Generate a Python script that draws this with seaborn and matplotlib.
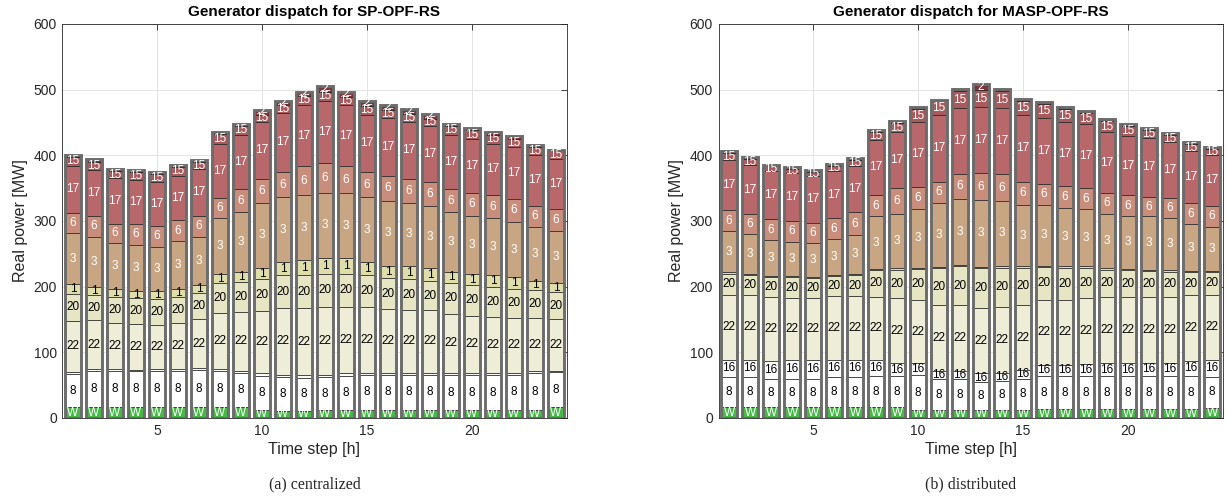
import numpy as np
import pandas as pd
import matplotlib
matplotlib.use("Agg")
import matplotlib.pyplot as plt
import seaborn as sns

# ---------------- data ----------------
hours = list(range(1, 25))
gen_names = ["W", "8", "16", "22", "20", "1", "3", "6", "17", "15", "2"]

# (a) centralized  (SP-OPF-RS) – MW per generator, per hour
c_W  = [16, 16, 16, 16, 16, 16, 16, 16, 16, 12, 11, 11, 12, 12, 12, 12, 12, 12, 12, 12, 12, 12, 12, 16]
c_8  = [51, 55, 55, 55, 55, 56, 57, 55, 52, 52, 51, 50, 50, 52, 54, 54, 54, 54, 53, 53, 53, 54, 56, 54]
c_16 = [3, 3, 3, 2, 3, 3, 3, 4, 4, 4, 4, 4, 4, 4, 3, 3, 3, 3, 3, 3, 3, 3, 3, 2]
c_22 = [78, 75, 71, 70, 68, 70, 74, 85, 89, 95, 101, 102, 103, 101, 100, 97, 96, 95, 91, 88, 86, 84, 81, 78]
c_20 = [41, 38, 39, 39, 39, 40, 41, 45, 46, 48, 50, 51, 51, 51, 49, 47, 46, 45, 46, 46, 46, 44, 43, 42]
c_1  = [15, 13, 12, 12, 12, 12, 12, 14, 16, 18, 20, 22, 24, 24, 19, 19, 20, 19, 18, 17, 17, 17, 14, 13]
c_3  = [77, 76, 71, 69, 68, 72, 73, 86, 90, 98, 99, 100, 99, 98, 99, 99, 97, 95, 91, 89, 88, 85, 82, 80]
c_6  = [31, 32, 29, 33, 31, 32, 32, 30, 36, 37, 39, 43, 46, 42, 39, 38, 36, 36, 34, 35, 34, 34, 32, 33]
c_17 = [72, 69, 69, 66, 67, 68, 71, 82, 82, 87, 90, 94, 94, 92, 87, 88, 87, 85, 83, 82, 79, 80, 78, 76]
c_15 = [14, 13, 11, 12, 12, 13, 11, 15, 14, 11, 12, 13, 14, 13, 13, 12, 12, 12, 14, 13, 13, 12, 11, 12]
c_2  = [3, 4, 3, 3, 3, 3, 3, 3, 3, 7, 6, 7, 8, 8, 8, 8, 7, 7, 3, 4, 4, 4, 3, 2]

# (b) distributed  (MASP-OPF-RS)
d_W  = [16, 16, 16, 16, 16, 16, 16, 16, 16, 12, 12, 12, 12, 12, 12, 13, 13, 13, 13, 13, 13, 13, 13, 15]
d_8  = [47, 47, 44, 44, 44, 47, 47, 48, 48, 53, 47, 47, 43, 45, 48, 51, 51, 51, 51, 51, 51, 51, 51, 48]
d_16 = [26, 26, 27, 28, 28, 26, 26, 24, 19, 18, 12, 12, 13, 12, 13, 17, 17, 18, 19, 19, 20, 20, 23, 25]
d_22 = [99, 99, 97, 95, 94, 97, 97, 97, 99, 97, 101, 101, 100, 100, 99, 99, 99, 100, 101, 101, 100, 101, 100, 100]
d_20 = [32, 29, 30, 31, 31, 30, 31, 40, 44, 47, 56, 59, 60, 60, 57, 50, 49, 47, 42, 41, 40, 38, 35, 34]
d_1  = [2, 2, 2, 2, 2, 2, 2, 2, 2, 2, 2, 2, 2, 2, 2, 2, 2, 2, 2, 2, 2, 2, 2, 2]
d_3  = [62, 61, 55, 52, 51, 54, 60, 80, 83, 90, 97, 101, 102, 100, 93, 92, 89, 87, 83, 81, 81, 79, 71, 67]
d_6  = [33, 30, 32, 32, 31, 32, 34, 33, 39, 33, 33, 38, 41, 40, 36, 33, 33, 32, 32, 31, 30, 31, 32, 32]
d_17 = [76, 75, 73, 73, 72, 72, 70, 84, 85, 99, 101, 100, 100, 101, 101, 100, 98, 97, 92, 91, 89, 85, 79, 78]
d_15 = [10, 10, 7, 6, 6, 8, 10, 12, 14, 19, 21, 26, 26, 26, 22, 21, 19, 17, 17, 15, 12, 11, 11, 8]
d_2  = [3, 3, 3, 3, 3, 3, 3, 3, 3, 3, 3, 3, 9, 3, 3, 3, 3, 3, 3, 3, 3, 3, 3, 3]

titles = ["Generator dispatch for SP-OPF-RS", "Generator dispatch for MASP-OPF-RS"]
captions = ["(a) centralized", "(b) distributed"]
x_label = "Time step [h]"
y_label = "Real power [MW]"
x_ticks = [5, 10, 15, 20]
y_ticks = [0, 100, 200, 300, 400, 500, 600]

# ---------------- style ----------------
sns.set_style("white")
plt.rcParams["font.family"] = ["Liberation Sans", "DejaVu Sans"]

colors = {
    "W": "#46b946", "8": "#ffffff", "16": "#ffffff", "22": "#eeeed8",
    "20": "#e6e5c4", "1": "#dfdea8", "3": "#c9a683", "6": "#c98e7b",
    "17": "#b8686a", "15": "#a95a5c", "2": "#7a3638",
}
text_colors = {"W": "white", "8": "black", "16": "black", "22": "black",
               "20": "black", "1": "black", "3": "white", "6": "white",
               "17": "white", "15": "white", "2": "white"}

panels = [
    [c_W, c_8, c_16, c_22, c_20, c_1, c_3, c_6, c_17, c_15, c_2],
    [d_W, d_8, d_16, d_22, d_20, d_1, d_3, d_6, d_17, d_15, d_2],
]

fig = plt.figure(figsize=(12.27, 5.01), dpi=100)
ax_pos = [[0.0509, 0.1657, 0.4108, 0.7864], [0.5856, 0.1657, 0.4108, 0.7864]]
BAR_W = 0.74

for p, series in enumerate(panels):
    ax = fig.add_axes(ax_pos[p])
    vals = np.array(series, dtype=float)          # gens x hours
    cum = np.cumsum(vals, axis=0)
    # draw from top layer downwards so lower layers overlay
    for g in range(len(gen_names) - 1, -1, -1):
        sns.barplot(x=hours, y=cum[g], native_scale=True, color=colors[gen_names[g]],
                    saturation=1, width=BAR_W, edgecolor="#2a2a2a", linewidth=0.6,
                    errorbar=None, ax=ax, zorder=2)
    # thick grey outline around each stack
    sns.barplot(x=hours, y=cum[-1], native_scale=True, color="#6c6c6c", fill=False,
                saturation=1, width=BAR_W, linewidth=2.1, errorbar=None, ax=ax, zorder=3)
    # segment labels
    for g, name in enumerate(gen_names):
        for i, h in enumerate(hours):
            v = vals[g, i]
            if v >= 5.5:
                base = cum[g, i] - v
                ax.text(h, base + v / 2, name, ha="center", va="center",
                        fontsize=8.5, color=text_colors[name], zorder=4)
    ax.set_xlim(0.5, 24.5)
    ax.set_ylim(0, 600)
    ax.set_xticks(x_ticks)
    ax.set_xticklabels([str(t) for t in x_ticks])
    ax.set_yticks(y_ticks)
    ax.set_axisbelow(True)
    ax.grid(True, color="#e3e3e3", linewidth=0.7)
    ax.tick_params(direction="in", top=True, right=True, length=4, width=0.6,
                   labelsize=10, colors="#262626", pad=4)
    for s in ax.spines.values():
        s.set_color("#262626")
        s.set_linewidth(0.6)
    ax.set_xlabel(x_label, fontsize=11.5, color="#262626", labelpad=3)
    ax.set_ylabel(y_label, fontsize=11.5, color="#262626", labelpad=4)
    ax.set_title(titles[p], fontsize=11, fontweight="bold", pad=6, color="black")
    cx = ax_pos[p][0] + ax_pos[p][2] / 2
    fig.text(cx, 0.033, captions[p], ha="center", va="center", fontsize=11.5,
             family=["Liberation Serif", "DejaVu Serif"])

fig.savefig("out.png", dpi=100)
